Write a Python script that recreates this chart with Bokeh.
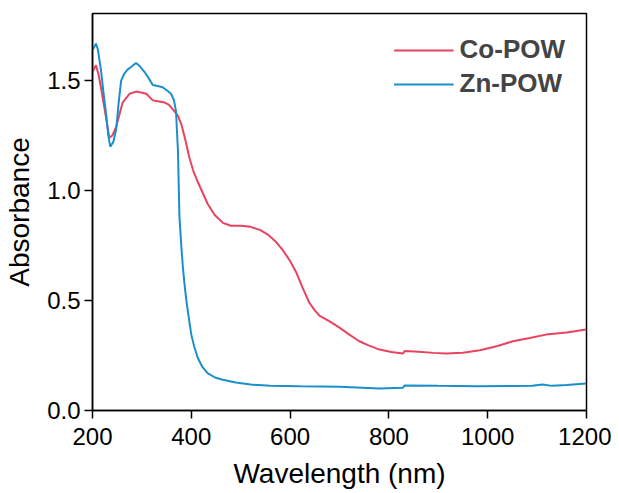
from bokeh.plotting import figure
from bokeh.models import Range1d, Legend, LegendItem, FixedTicker
from bokeh.embed import file_html
from bokeh.resources import INLINE

# Co-POW (wavelength nm, absorbance)
co_x = [200, 207, 212, 217, 226, 234, 240, 248, 255, 261, 268, 275, 288, 300, 309, 322, 335,
        346, 355, 366, 373, 380, 388, 396, 404, 413, 423, 433, 447, 464, 480, 500, 520, 540,
        555, 570, 585, 600, 612, 625, 639, 650, 660, 680, 700, 720, 740, 760, 781, 805, 828,
        832, 860, 890, 916, 950, 984, 1020, 1051, 1085, 1118, 1160, 1199]
co_y = [1.54, 1.57, 1.53, 1.47, 1.35, 1.24, 1.25, 1.29, 1.35, 1.40, 1.42, 1.44, 1.45, 1.445,
        1.44, 1.41, 1.405, 1.40, 1.39, 1.36, 1.34, 1.30, 1.23, 1.15, 1.09, 1.04, 0.99, 0.94,
        0.89, 0.853, 0.84, 0.84, 0.835, 0.82, 0.80, 0.77, 0.73, 0.68, 0.63, 0.56, 0.49, 0.455,
        0.43, 0.405, 0.377, 0.345, 0.315, 0.295, 0.277, 0.266, 0.259, 0.27, 0.267, 0.262, 0.259,
        0.263, 0.274, 0.293, 0.315, 0.33, 0.345, 0.355, 0.368]

# Zn-POW
zn_x = [200, 203, 207, 211, 217, 222, 228, 232, 236, 242, 248, 253, 258, 264, 271, 280, 288,
        296, 305, 314, 322, 332, 342, 351, 359, 365, 369, 373, 376, 380, 383, 386, 390, 395,
        400, 406, 413, 422, 433, 448, 464, 490, 520, 560, 620, 700, 781, 828, 832, 900, 980,
        1050, 1090, 1111, 1130, 1160, 1199]
zn_y = [1.64, 1.65, 1.668, 1.64, 1.55, 1.45, 1.34, 1.25, 1.20, 1.22, 1.28, 1.40, 1.50, 1.53,
        1.55, 1.565, 1.58, 1.565, 1.54, 1.51, 1.48, 1.475, 1.47, 1.455, 1.44, 1.41, 1.36, 1.18,
        0.88, 0.74, 0.65, 0.58, 0.50, 0.42, 0.345, 0.29, 0.24, 0.20, 0.17, 0.15, 0.14, 0.127,
        0.118, 0.112, 0.11, 0.108, 0.10, 0.103, 0.114, 0.112, 0.11, 0.111, 0.113, 0.118, 0.112,
        0.116, 0.123]

x_ticks = [200, 400, 600, 800, 1000, 1200]
y_ticks = [0.0, 0.5, 1.0, 1.5]

red = "#e8435f"
blue = "#1c8fcb"
font = "Liberation Sans"

p = figure(width=611, height=491, output_backend="svg", toolbar_location=None,
           x_range=Range1d(200, 1200), y_range=Range1d(0, 1.805),
           min_border_left=92, min_border_right=25, min_border_top=13, min_border_bottom=81)
p.grid.visible = False
p.outline_line_color = "black"
p.outline_line_width = 1.5

r1 = p.line(co_x, co_y, line_color=red, line_width=2)
r2 = p.line(zn_x, zn_y, line_color=blue, line_width=2)

for ax in (p.xaxis[0], p.yaxis[0]):
    ax.axis_line_width = 1.5
    ax.major_tick_line_width = 1.5
    ax.major_tick_out = 8
    ax.major_tick_in = 0
    ax.minor_tick_line_color = None
    ax.major_label_text_font = font
    ax.major_label_text_font_size = "24px"
    ax.major_label_text_color = "black"
    ax.axis_label_text_font = font
    ax.axis_label_text_font_size = "28px"
    ax.axis_label_text_font_style = "normal"
    ax.axis_label_text_color = "black"

p.xaxis[0].ticker = FixedTicker(ticks=x_ticks)
p.yaxis[0].ticker = FixedTicker(ticks=y_ticks)
p.yaxis[0].major_label_overrides = {0.0: "0.0", 0.5: "0.5", 1.0: "1.0", 1.5: "1.5"}
p.xaxis[0].axis_label = "Wavelength (nm)"
p.yaxis[0].axis_label = "Absorbance"
p.xaxis[0].major_label_standoff = 9
p.xaxis[0].axis_label_standoff = 10
p.yaxis[0].major_label_standoff = 4
p.yaxis[0].axis_label_standoff = 9

legend = Legend(items=[LegendItem(label="Co-POW", renderers=[r1]),
                       LegendItem(label="Zn-POW", renderers=[r2])],
                location="top_right")
legend.border_line_color = None
legend.background_fill_alpha = 0
legend.label_text_font = font
legend.label_text_font_size = "26px"
legend.label_text_font_style = "bold"
legend.glyph_width = 60
legend.label_standoff = 6
legend.spacing = 3
legend.margin = 21
legend.padding = 8
p.add_layout(legend)

open("out.html", "w").write(file_html(p, INLINE))
